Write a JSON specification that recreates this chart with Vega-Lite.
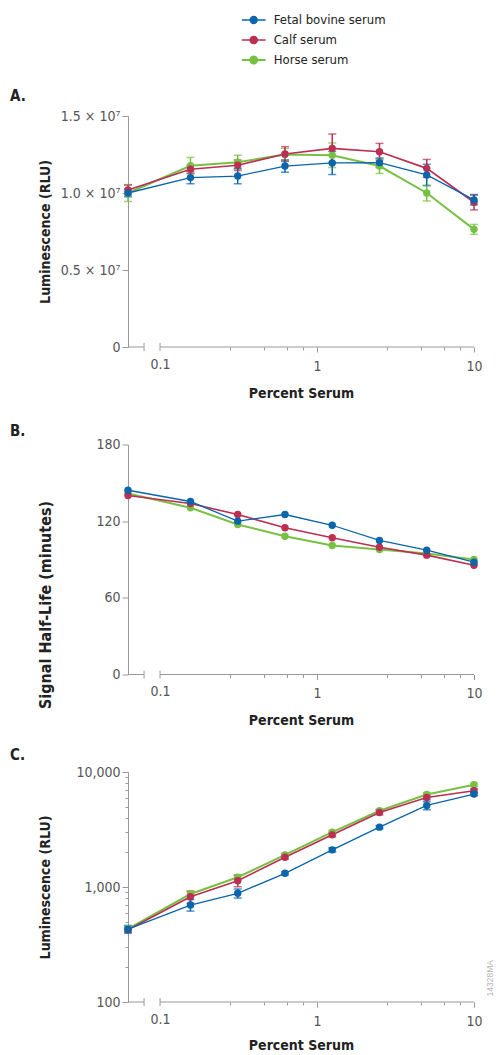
{
  "$schema": "https://vega.github.io/schema/vega-lite/v6.json",
  "padding": {"left": 10, "top": 12, "right": 5, "bottom": 3},
  "background": "white",
  "config": {
    "font": "'Liberation Sans Narrow', 'DejaVu Sans Condensed', 'Arial Narrow', sans-serif",
    "view": {"stroke": null},
    "axis": {"domainColor": "#999999", "tickColor": "#999999", "labelColor": "#555555", "labelFontSize": 14, "titleFontSize": 14, "titleFontWeight": "bold", "titleColor": "#222222", "grid": false, "labelOverlap": false, "labelFlush": false},
    "title": {"fontSize": 15, "fontWeight": "bold", "color": "#222222", "anchor": "start", "frame": "group"}
  },
  "datasets": {
    "A": [
      {"pct": 0.0625, "serum": "Horse serum", "value": 10000000, "lo": 9450000, "hi": 10550000},
      {"pct": 0.15625, "serum": "Horse serum", "value": 11770000, "lo": 11230000, "hi": 12310000},
      {"pct": 0.3125, "serum": "Horse serum", "value": 12000000, "lo": 11550000, "hi": 12450000},
      {"pct": 0.625, "serum": "Horse serum", "value": 12500000, "lo": 12100000, "hi": 12900000},
      {"pct": 1.25, "serum": "Horse serum", "value": 12450000, "lo": 11650000, "hi": 13250000},
      {"pct": 2.5, "serum": "Horse serum", "value": 11750000, "lo": 11270000, "hi": 12230000},
      {"pct": 5, "serum": "Horse serum", "value": 10000000, "lo": 9480000, "hi": 10520000},
      {"pct": 10, "serum": "Horse serum", "value": 7640000, "lo": 7320000, "hi": 7960000},
      {"pct": 0.0625, "serum": "Calf serum", "value": 10200000, "lo": 9880000, "hi": 10520000},
      {"pct": 0.15625, "serum": "Calf serum", "value": 11540000, "lo": 11280000, "hi": 11800000},
      {"pct": 0.3125, "serum": "Calf serum", "value": 11800000, "lo": 11460000, "hi": 12140000},
      {"pct": 0.625, "serum": "Calf serum", "value": 12530000, "lo": 12050000, "hi": 13010000},
      {"pct": 1.25, "serum": "Calf serum", "value": 12900000, "lo": 11970000, "hi": 13830000},
      {"pct": 2.5, "serum": "Calf serum", "value": 12680000, "lo": 12140000, "hi": 13220000},
      {"pct": 5, "serum": "Calf serum", "value": 11600000, "lo": 11020000, "hi": 12180000},
      {"pct": 10, "serum": "Calf serum", "value": 9400000, "lo": 8900000, "hi": 9900000},
      {"pct": 0.0625, "serum": "Fetal bovine serum", "value": 10000000, "lo": 9750000, "hi": 10250000},
      {"pct": 0.15625, "serum": "Fetal bovine serum", "value": 11000000, "lo": 10600000, "hi": 11400000},
      {"pct": 0.3125, "serum": "Fetal bovine serum", "value": 11100000, "lo": 10600000, "hi": 11600000},
      {"pct": 0.625, "serum": "Fetal bovine serum", "value": 11750000, "lo": 11350000, "hi": 12150000},
      {"pct": 1.25, "serum": "Fetal bovine serum", "value": 11950000, "lo": 11200000, "hi": 12700000},
      {"pct": 2.5, "serum": "Fetal bovine serum", "value": 11970000, "lo": 11670000, "hi": 12270000},
      {"pct": 5, "serum": "Fetal bovine serum", "value": 11170000, "lo": 10470000, "hi": 11870000},
      {"pct": 10, "serum": "Fetal bovine serum", "value": 9550000, "lo": 9230000, "hi": 9870000}
    ],
    "B": [
      {"pct": 0.0625, "serum": "Horse serum", "value": 141.7},
      {"pct": 0.15625, "serum": "Horse serum", "value": 130.5},
      {"pct": 0.3125, "serum": "Horse serum", "value": 117.4},
      {"pct": 0.625, "serum": "Horse serum", "value": 108.2},
      {"pct": 1.25, "serum": "Horse serum", "value": 101},
      {"pct": 2.5, "serum": "Horse serum", "value": 97.8},
      {"pct": 5, "serum": "Horse serum", "value": 94.7},
      {"pct": 10, "serum": "Horse serum", "value": 90},
      {"pct": 0.0625, "serum": "Calf serum", "value": 140.1},
      {"pct": 0.15625, "serum": "Calf serum", "value": 133.8},
      {"pct": 0.3125, "serum": "Calf serum", "value": 125.2},
      {"pct": 0.625, "serum": "Calf serum", "value": 114.8},
      {"pct": 1.25, "serum": "Calf serum", "value": 107},
      {"pct": 2.5, "serum": "Calf serum", "value": 99.6},
      {"pct": 5, "serum": "Calf serum", "value": 93.4},
      {"pct": 10, "serum": "Calf serum", "value": 85.5},
      {"pct": 0.0625, "serum": "Fetal bovine serum", "value": 144.2},
      {"pct": 0.15625, "serum": "Fetal bovine serum", "value": 135.4},
      {"pct": 0.3125, "serum": "Fetal bovine serum", "value": 120},
      {"pct": 0.625, "serum": "Fetal bovine serum", "value": 125.2},
      {"pct": 1.25, "serum": "Fetal bovine serum", "value": 116.8},
      {"pct": 2.5, "serum": "Fetal bovine serum", "value": 104.9},
      {"pct": 5, "serum": "Fetal bovine serum", "value": 97.3},
      {"pct": 10, "serum": "Fetal bovine serum", "value": 87.9}
    ],
    "C": [
      {"pct": 0.0625, "serum": "Horse serum", "value": 432, "lo": 417, "hi": 447},
      {"pct": 0.15625, "serum": "Horse serum", "value": 869, "lo": 834, "hi": 904},
      {"pct": 0.3125, "serum": "Horse serum", "value": 1215, "lo": 1155, "hi": 1275},
      {"pct": 0.625, "serum": "Horse serum", "value": 1901, "lo": 1841, "hi": 1961},
      {"pct": 1.25, "serum": "Horse serum", "value": 2999, "lo": 2909, "hi": 3089},
      {"pct": 2.5, "serum": "Horse serum", "value": 4600, "lo": 4450, "hi": 4750},
      {"pct": 5, "serum": "Horse serum", "value": 6379, "lo": 6179, "hi": 6579},
      {"pct": 10, "serum": "Horse serum", "value": 7748, "lo": 7498, "hi": 7998},
      {"pct": 0.0625, "serum": "Calf serum", "value": 425, "lo": 405, "hi": 445},
      {"pct": 0.15625, "serum": "Calf serum", "value": 823, "lo": 723, "hi": 923},
      {"pct": 0.3125, "serum": "Calf serum", "value": 1135, "lo": 1005, "hi": 1265},
      {"pct": 0.625, "serum": "Calf serum", "value": 1815, "lo": 1745, "hi": 1885},
      {"pct": 1.25, "serum": "Calf serum", "value": 2841, "lo": 2731, "hi": 2951},
      {"pct": 2.5, "serum": "Calf serum", "value": 4443, "lo": 4243, "hi": 4643},
      {"pct": 5, "serum": "Calf serum", "value": 6006, "lo": 5756, "hi": 6256},
      {"pct": 10, "serum": "Calf serum", "value": 6871, "lo": 6621, "hi": 7121},
      {"pct": 0.0625, "serum": "Fetal bovine serum", "value": 430, "lo": 397, "hi": 463},
      {"pct": 0.15625, "serum": "Fetal bovine serum", "value": 697, "lo": 617, "hi": 777},
      {"pct": 0.3125, "serum": "Fetal bovine serum", "value": 881, "lo": 801, "hi": 961},
      {"pct": 0.625, "serum": "Fetal bovine serum", "value": 1316, "lo": 1276, "hi": 1356},
      {"pct": 1.25, "serum": "Fetal bovine serum", "value": 2103, "lo": 2013, "hi": 2193},
      {"pct": 2.5, "serum": "Fetal bovine serum", "value": 3315, "lo": 3215, "hi": 3415},
      {"pct": 5, "serum": "Fetal bovine serum", "value": 5115, "lo": 4695, "hi": 5535},
      {"pct": 10, "serum": "Fetal bovine serum", "value": 6428, "lo": 6228, "hi": 6628}
    ],
    "one": [{"t": "14328MA"}]
  },
  "spacing": 97.5,
  "bounds": "flush",
  "resolve": {"scale": {"color": "shared", "strokeWidth": "shared"}},
  "vconcat": [
    {
      "title": {"text": "A.", "dx": -118, "offset": 5},
      "width": 346,
      "height": 231,
      "layer": [
        {"data": {"name": "one"}, "mark": {"type": "rule", "color": "#999999", "strokeWidth": 1}, "encoding": {"x": {"datum": 0.0625}, "x2": {"datum": 0.0791}, "y": {"datum": 0}}},
        {"data": {"name": "one"}, "mark": {"type": "rule", "color": "#999999", "strokeWidth": 1}, "encoding": {"x": {"datum": 0.1}, "x2": {"datum": 10}, "y": {"datum": 0}}},
        {"data": {"name": "one"}, "mark": {"type": "rule", "color": "#999999", "strokeWidth": 1}, "encoding": {"x": {"datum": 0.0791}, "y": {"datum": -260000}, "y2": {"datum": 260000}}},
        {"data": {"name": "one"}, "mark": {"type": "rule", "color": "#999999", "strokeWidth": 1}, "encoding": {"x": {"datum": 0.1}, "y": {"datum": -260000}, "y2": {"datum": 260000}}},
        {
          "data": {"name": "A"},
          "mark": {"type": "errorbar", "ticks": true, "size": 8, "thickness": 1.5},
          "encoding": {
            "x": {"field": "pct", "type": "quantitative", "title": "Percent Serum"},
            "y": {"field": "lo", "type": "quantitative", "title": "Luminescence (RLU)"},
            "y2": {"field": "hi"},
            "color": {"field": "serum", "type": "nominal"}
          }
        },
        {
          "data": {"name": "A"},
          "mark": {"type": "line"},
          "encoding": {
            "x": {"field": "pct", "type": "quantitative", "title": "Percent Serum", "scale": {"type": "log", "domain": [0.0625, 10], "nice": false},
              "axis": {"domain": false, "values": [0.1, 0.28, 0.46, 0.64, 0.82, 1, 2.8, 4.6, 6.4, 8.2, 10],
                "tickSize": {"condition": {"test": "datum.value == 1 || datum.value == 10", "value": 5}, "value": 3},
                "tickOpacity": {"condition": {"test": "datum.value == 0.1", "value": 0}, "value": 1},
                "labelExpr": "datum.value == 0.1 ? '0.1' : datum.value == 1 ? '1' : datum.value == 10 ? '10' : ''",
                "labelPadding": 7, "titleY": 46, "titleBaseline": "middle"}},
            "y": {"field": "value", "type": "quantitative", "title": "Luminescence (RLU)", "scale": {"domain": [0, 15000000], "nice": false, "zero": true},
              "axis": {"values": [0, 5000000, 10000000, 15000000],
                "labelExpr": "datum.value == 0 ? '0' : format(datum.value / 10000000, '.1f') + ' × 10⁷'",
                "tickSize": 6, "labelPadding": 2, "titleX": -83, "titleY": 115.5, "titleBaseline": "middle"}},
            "color": {"field": "serum", "type": "nominal",
              "scale": {"domain": ["Fetal bovine serum", "Calf serum", "Horse serum"], "range": ["#0a65ab", "#bb2f52", "#78c043"]},
              "legend": {"title": null, "orient": "none", "legendX": 117.7, "legendY": -104,
                "symbolType": "M-1.7,0L1.7,0M-0.5,0A0.5,0.5 0 1,0 0.5,0A0.5,0.5 0 1,0 -0.5,0Z",
                "symbolSize": 196, "symbolStrokeWidth": 1.5, "labelFontSize": 13, "labelColor": "#222222", "labelOffset": 12, "rowPadding": 5,
                "encode": {"symbols": {"update": {"fill": {"scale": "color", "field": "value"}, "stroke": {"scale": "color", "field": "value"}}}}}},
            "strokeWidth": {"field": "serum", "type": "nominal", "scale": {"domain": ["Fetal bovine serum", "Calf serum", "Horse serum"], "range": [1.3, 2, 2]}, "legend": null}
          }
        },
        {
          "data": {"name": "A"},
          "mark": {"type": "point", "filled": true, "size": 55, "opacity": 1},
          "encoding": {
            "x": {"field": "pct", "type": "quantitative", "title": "Percent Serum"},
            "y": {"field": "value", "type": "quantitative", "title": "Luminescence (RLU)"},
            "color": {"field": "serum", "type": "nominal"}
          }
        }
      ]
    },
    {
      "title": {"text": "B.", "dx": -118, "offset": -1},
      "width": 346,
      "height": 230,
      "layer": [
        {"data": {"name": "one"}, "mark": {"type": "rule", "color": "#999999", "strokeWidth": 1}, "encoding": {"x": {"datum": 0.0625}, "x2": {"datum": 0.0791}, "y": {"datum": 0}}},
        {"data": {"name": "one"}, "mark": {"type": "rule", "color": "#999999", "strokeWidth": 1}, "encoding": {"x": {"datum": 0.1}, "x2": {"datum": 10}, "y": {"datum": 0}}},
        {"data": {"name": "one"}, "mark": {"type": "rule", "color": "#999999", "strokeWidth": 1}, "encoding": {"x": {"datum": 0.0791}, "y": {"datum": -3.1}, "y2": {"datum": 3.1}}},
        {"data": {"name": "one"}, "mark": {"type": "rule", "color": "#999999", "strokeWidth": 1}, "encoding": {"x": {"datum": 0.1}, "y": {"datum": -3.1}, "y2": {"datum": 3.1}}},
        {
          "data": {"name": "B"},
          "mark": {"type": "line"},
          "encoding": {
            "x": {"field": "pct", "type": "quantitative", "title": "Percent Serum", "scale": {"type": "log", "domain": [0.0625, 10], "nice": false},
              "axis": {"domain": false, "values": [0.1, 0.28, 0.46, 0.64, 0.82, 1, 2.8, 4.6, 6.4, 8.2, 10],
                "tickSize": {"condition": {"test": "datum.value == 1 || datum.value == 10", "value": 5}, "value": 3},
                "tickOpacity": {"condition": {"test": "datum.value == 0.1", "value": 0}, "value": 1},
                "labelExpr": "datum.value == 0.1 ? '0.1' : datum.value == 1 ? '1' : datum.value == 10 ? '10' : ''",
                "labelPadding": 7, "titleY": 46, "titleBaseline": "middle"}},
            "y": {"field": "value", "type": "quantitative", "title": "Signal Half-Life (minutes)", "scale": {"domain": [0, 180], "nice": false},
              "axis": {"values": [0, 60, 120, 180],
                "tickSize": 6, "labelPadding": 2, "titleX": -83, "titleY": 160, "titleBaseline": "middle", "titleFontSize": 16}},
            "color": {"field": "serum", "type": "nominal"},
            "strokeWidth": {"field": "serum", "type": "nominal", "legend": null}
          }
        },
        {
          "data": {"name": "B"},
          "mark": {"type": "point", "filled": true, "size": 55, "opacity": 1},
          "encoding": {
            "x": {"field": "pct", "type": "quantitative", "title": "Percent Serum"},
            "y": {"field": "value", "type": "quantitative", "title": "Signal Half-Life (minutes)"},
            "color": {"field": "serum", "type": "nominal"}
          }
        }
      ]
    },
    {
      "title": {"text": "C.", "dx": -118, "offset": 2},
      "width": 346,
      "height": 230,
      "layer": [
        {"data": {"name": "one"}, "mark": {"type": "rule", "color": "#999999", "strokeWidth": 1}, "encoding": {"x": {"datum": 0.0625}, "x2": {"datum": 0.0791}, "y": {"datum": 100}}},
        {"data": {"name": "one"}, "mark": {"type": "rule", "color": "#999999", "strokeWidth": 1}, "encoding": {"x": {"datum": 0.1}, "x2": {"datum": 10}, "y": {"datum": 100}}},
        {"data": {"name": "one"}, "mark": {"type": "rule", "color": "#999999", "strokeWidth": 1}, "encoding": {"x": {"datum": 0.0791}, "y": {"datum": 92.3}, "y2": {"datum": 108.3}}},
        {"data": {"name": "one"}, "mark": {"type": "rule", "color": "#999999", "strokeWidth": 1}, "encoding": {"x": {"datum": 0.1}, "y": {"datum": 92.3}, "y2": {"datum": 108.3}}},
        {"data": {"name": "one"}, "mark": {"type": "text", "angle": 270, "fontSize": 8.5, "color": "#b5b5b5", "font": "'Liberation Sans', Arial, sans-serif"}, "encoding": {"x": {"datum": 12.65}, "y": {"datum": 161}, "text": {"field": "t"}}},
        {
          "data": {"name": "C"},
          "mark": {"type": "errorbar", "ticks": true, "size": 8, "thickness": 1.5},
          "encoding": {
            "x": {"field": "pct", "type": "quantitative", "title": "Percent Serum"},
            "y": {"field": "lo", "type": "quantitative", "title": "Luminescence (RLU)"},
            "y2": {"field": "hi"},
            "color": {"field": "serum", "type": "nominal"}
          }
        },
        {
          "data": {"name": "C"},
          "mark": {"type": "line"},
          "encoding": {
            "x": {"field": "pct", "type": "quantitative", "title": "Percent Serum", "scale": {"type": "log", "domain": [0.0625, 10], "nice": false},
              "axis": {"domain": false, "values": [0.1, 0.28, 0.46, 0.64, 0.82, 1, 2.8, 4.6, 6.4, 8.2, 10],
                "tickSize": {"condition": {"test": "datum.value == 1 || datum.value == 10", "value": 5}, "value": 3},
                "tickOpacity": {"condition": {"test": "datum.value == 0.1", "value": 0}, "value": 1},
                "labelExpr": "datum.value == 0.1 ? '0.1' : datum.value == 1 ? '1' : datum.value == 10 ? '10' : ''",
                "labelPadding": 7, "titleY": 43, "titleBaseline": "middle"}},
            "y": {"field": "value", "type": "quantitative", "title": "Luminescence (RLU)", "scale": {"type": "log", "domain": [100, 10000], "nice": false},
              "axis": {"values": [100, 200, 300, 400, 500, 600, 700, 800, 900, 1000, 2000, 3000, 4000, 5000, 6000, 7000, 8000, 9000, 10000],
                "labelExpr": "datum.value == 100 || datum.value == 1000 || datum.value == 10000 ? format(datum.value, ',') : ''",
                "tickSize": {"condition": {"test": "datum.value == 100 || datum.value == 1000 || datum.value == 10000", "value": 6}, "value": 3},
                "labelPadding": 2, "titleX": -83, "titleY": 115, "titleBaseline": "middle"}},
            "color": {"field": "serum", "type": "nominal"},
            "strokeWidth": {"field": "serum", "type": "nominal", "legend": null}
          }
        },
        {
          "data": {"name": "C"},
          "mark": {"type": "point", "filled": true, "size": 55, "opacity": 1},
          "encoding": {
            "x": {"field": "pct", "type": "quantitative", "title": "Percent Serum"},
            "y": {"field": "value", "type": "quantitative", "title": "Luminescence (RLU)"},
            "color": {"field": "serum", "type": "nominal"}
          }
        }
      ]
    }
  ]
}
